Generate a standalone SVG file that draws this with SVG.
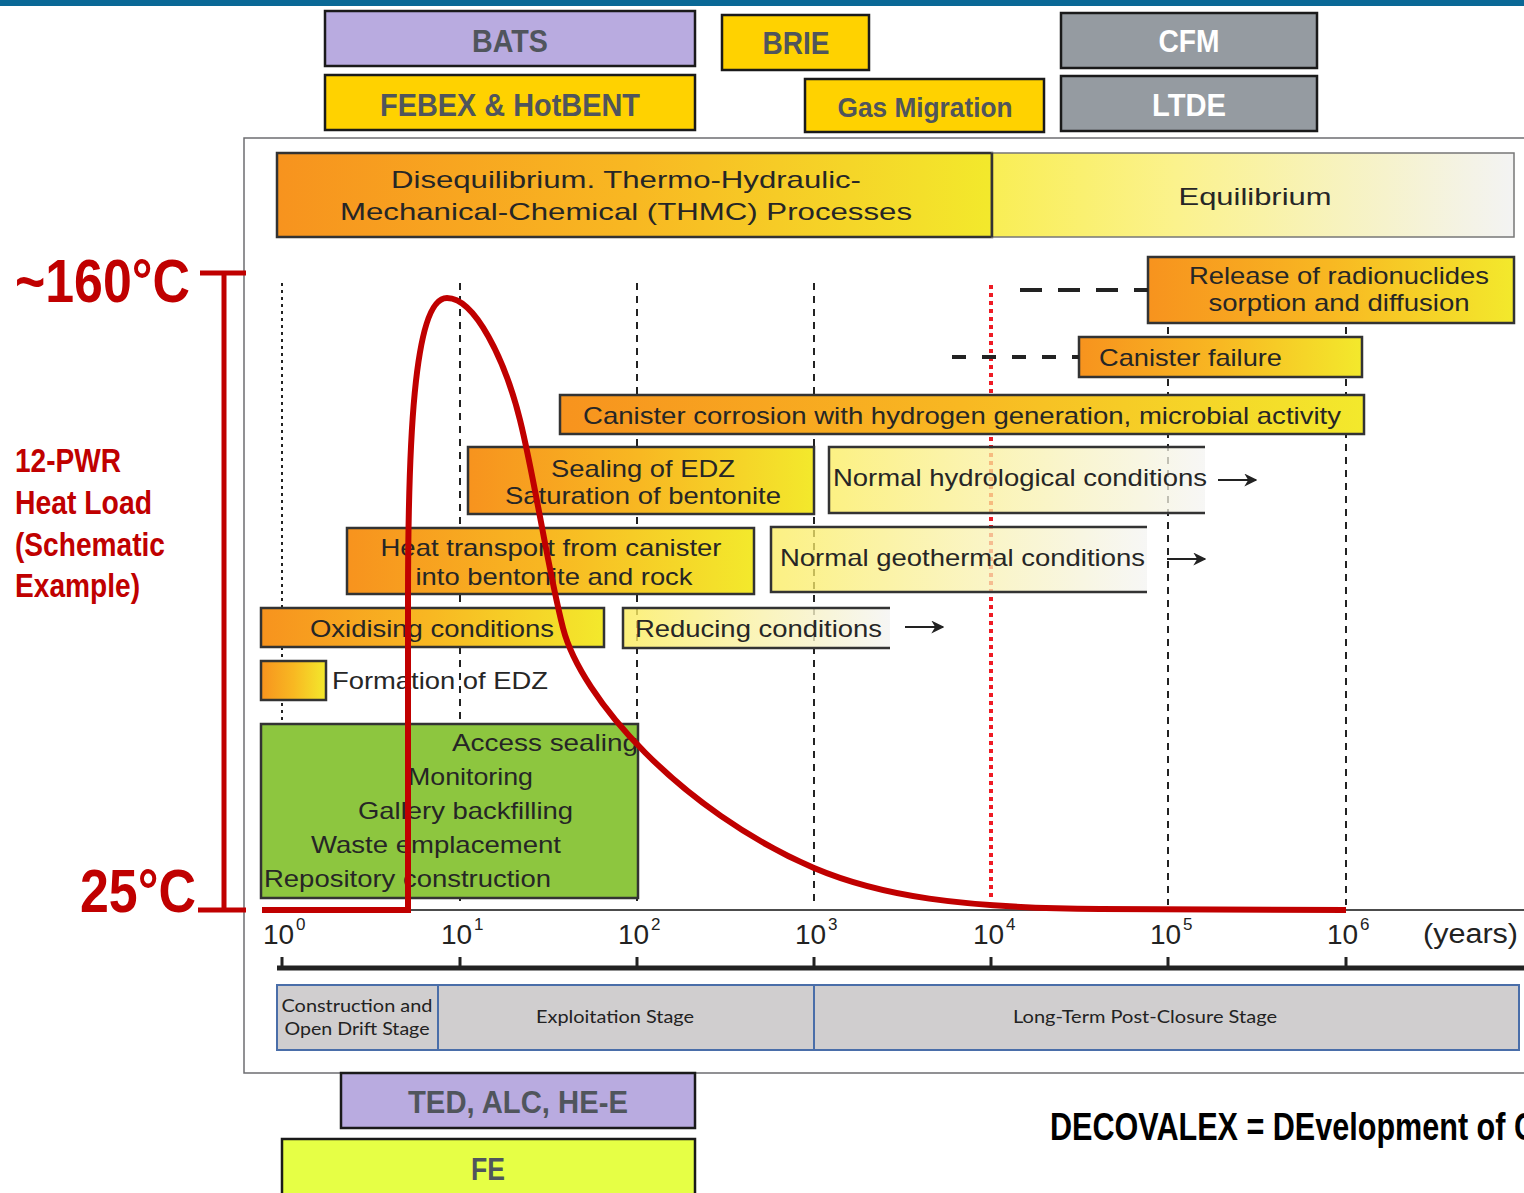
<svg xmlns="http://www.w3.org/2000/svg" width="1524" height="1193" viewBox="0 0 1524 1193">
<defs>
<linearGradient id="og" x1="0" y1="0" x2="1" y2="0">
<stop offset="0" stop-color="#f7931e"/>
<stop offset="0.5" stop-color="#f8b822"/>
<stop offset="1" stop-color="#f3e92c"/>
</linearGradient>
<linearGradient id="ly" x1="0" y1="0" x2="1" y2="0">
<stop offset="0" stop-color="#fbec5a"/>
<stop offset="0.5" stop-color="#f9f1a8"/>
<stop offset="1" stop-color="#f4f4f2"/>
</linearGradient>
<linearGradient id="eq" x1="0" y1="0" x2="1" y2="0">
<stop offset="0" stop-color="#f9ee55"/>
<stop offset="0.35" stop-color="#fbf28c"/>
<stop offset="1" stop-color="#f3f3f3"/>
</linearGradient>
<marker id="arr" viewBox="0 0 10 10" refX="9" refY="5" markerWidth="13" markerHeight="13" orient="auto" markerUnits="userSpaceOnUse">
<path d="M0,0 L10,5 L0,10 L3,5 z" fill="#222"/>
</marker>
<style>
.tb{stroke:#1a1a1a;stroke-width:2.5}
.tl{font-family:"Liberation Sans",Arial,sans-serif;font-weight:bold;text-anchor:middle;fill:#50555c}
.tw{fill:#ffffff}
.bx{stroke:#333;stroke-width:2.5}
.lb{stroke:#333;stroke-width:2.5;fill:none}
.t{font-family:"Liberation Sans",Arial,sans-serif;font-size:24px;fill:#262626}
.c{text-anchor:middle}
.red{font-family:"Liberation Sans",Arial,sans-serif;font-weight:bold;fill:#c00000}
.vl{stroke:#222;stroke-width:2;fill:none}
.st{font-family:Lato,"Open Sans",sans-serif;font-size:17px;fill:#222;text-anchor:middle}
.tk{font-family:"Liberation Sans",Arial,sans-serif;fill:#222}
</style>
</defs>
<rect x="0" y="0" width="1524" height="1193" fill="#ffffff"/>
<rect x="0" y="0" width="1524" height="6" fill="#0a6896"/>

<!-- main chart frame -->
<path d="M1530,138 L244,138 L244,1073 L1530,1073" fill="none" stroke="#6d6e71" stroke-width="1.5"/>

<!-- vertical guide lines -->
<g id="guides">
<line x1="282" y1="283" x2="282" y2="724" class="vl" stroke-width="2.5" stroke-dasharray="3,4"/>
<line x1="460" y1="283" x2="460" y2="905" class="vl" stroke-width="1.5" stroke-dasharray="7,6"/>
<line x1="637" y1="283" x2="637" y2="905" class="vl" stroke-width="2.5" stroke-dasharray="7,6"/>
<line x1="814" y1="283" x2="814" y2="905" class="vl" stroke-width="1.5" stroke-dasharray="7,6"/>
<line x1="1168" y1="327" x2="1168" y2="905" class="vl" stroke-width="2" stroke-dasharray="7,6"/>
<line x1="1346" y1="327" x2="1346" y2="905" class="vl" stroke-width="2" stroke-dasharray="7,6"/>
<line x1="991" y1="285" x2="991" y2="900" stroke="#ee1c25" stroke-width="4" stroke-dasharray="4,4"/>
</g>

<!-- top project boxes -->
<g id="bats"><rect x="325" y="11" width="370" height="55" fill="#b9abe0" class="tb"/><text x="510" y="52" class="tl" font-size="32" textLength="76" lengthAdjust="spacingAndGlyphs">BATS</text></g>
<g id="febex"><rect x="325" y="75" width="370" height="55" fill="#ffd200" class="tb"/><text x="510" y="116" class="tl" font-size="32" textLength="260" lengthAdjust="spacingAndGlyphs">FEBEX &amp; HotBENT</text></g>
<g id="brie"><rect x="722" y="15" width="147" height="55" fill="#ffd200" class="tb"/><text x="796" y="54" class="tl" font-size="32" textLength="67" lengthAdjust="spacingAndGlyphs">BRIE</text></g>
<g id="gas"><rect x="805" y="79" width="239" height="53" fill="#ffd200" class="tb"/><text x="925" y="117" class="tl" font-size="28" textLength="175" lengthAdjust="spacingAndGlyphs">Gas Migration</text></g>
<g id="cfm"><rect x="1061" y="13" width="256" height="55" fill="#959ba1" class="tb"/><text x="1189" y="52" class="tl tw" font-size="32" textLength="61" lengthAdjust="spacingAndGlyphs">CFM</text></g>
<g id="ltde"><rect x="1061" y="76" width="256" height="55" fill="#959ba1" class="tb"/><text x="1189" y="116" class="tl tw" font-size="32" textLength="74" lengthAdjust="spacingAndGlyphs">LTDE</text></g>

<!-- process boxes -->
<g id="diseq"><rect x="277" y="153" width="715" height="84" fill="url(#og)" class="bx"/>
<text x="626" y="188" class="t c" font-size="26" textLength="470" lengthAdjust="spacingAndGlyphs">Disequilibrium. Thermo-Hydraulic-</text>
<text x="626" y="220" class="t c" font-size="26" textLength="572" lengthAdjust="spacingAndGlyphs">Mechanical-Chemical (THMC) Processes</text></g>
<g id="equil"><rect x="992" y="153" width="522" height="84" fill="url(#eq)" stroke="#777" stroke-width="1.5"/><line x1="992" y1="153" x2="992" y2="237" stroke="#333" stroke-width="2.5"/>
<text x="1255" y="205" class="t c" font-size="26" textLength="153" lengthAdjust="spacingAndGlyphs">Equilibrium</text></g>

<g id="release"><rect x="1148" y="257" width="366" height="66" fill="url(#og)" class="bx"/>
<text x="1339" y="284" class="t c" textLength="300" lengthAdjust="spacingAndGlyphs">Release of radionuclides</text>
<text x="1339" y="311" class="t c" textLength="261" lengthAdjust="spacingAndGlyphs">sorption and diffusion</text></g>
<g id="failure"><rect x="1079" y="337" width="283" height="40" fill="url(#og)" class="bx"/>
<text x="1099" y="366" class="t" textLength="183" lengthAdjust="spacingAndGlyphs">Canister failure</text></g>
<g id="corrosion"><rect x="560" y="395" width="804" height="39" fill="url(#og)" class="bx"/>
<text x="962" y="424" class="t c" textLength="758" lengthAdjust="spacingAndGlyphs">Canister corrosion with hydrogen generation, microbial activity</text></g>
<g id="sealing"><rect x="468" y="447" width="346" height="67" fill="url(#og)" class="bx"/>
<text x="643" y="477" class="t c" textLength="184" lengthAdjust="spacingAndGlyphs">Sealing of EDZ</text>
<text x="643" y="504" class="t c" textLength="276" lengthAdjust="spacingAndGlyphs">Saturation of bentonite</text></g>
<g id="hydro"><rect x="829" y="447" width="376" height="66" fill="url(#ly)" fill-opacity="0.75"/><path d="M1205,447 L829,447 L829,513 L1205,513" class="lb"/>
<text x="833" y="486" class="t" textLength="374" lengthAdjust="spacingAndGlyphs">Normal hydrological conditions</text></g>
<g id="heat"><rect x="347" y="528" width="407" height="66" fill="url(#og)" class="bx"/>
<text x="551" y="556" class="t c" textLength="341" lengthAdjust="spacingAndGlyphs">Heat transport from canister</text>
<text x="554" y="585" class="t c" textLength="277" lengthAdjust="spacingAndGlyphs">into bentonite and rock</text></g>
<g id="geo"><rect x="771" y="527" width="376" height="65" fill="url(#ly)" fill-opacity="0.75"/><path d="M1147,527 L771,527 L771,592 L1147,592" class="lb"/>
<text x="780" y="566" class="t" textLength="365" lengthAdjust="spacingAndGlyphs">Normal geothermal conditions</text></g>
<g id="oxid"><rect x="261" y="608" width="343" height="39" fill="url(#og)" class="bx"/>
<text x="432" y="637" class="t c" textLength="244" lengthAdjust="spacingAndGlyphs">Oxidising conditions</text></g>
<g id="reduc"><rect x="623" y="608" width="267" height="40" fill="url(#ly)" fill-opacity="0.8"/><path d="M890,608 L623,608 L623,648 L890,648" class="lb"/>
<text x="635" y="637" class="t" textLength="247" lengthAdjust="spacingAndGlyphs">Reducing conditions</text></g>
<g id="edz"><rect x="261" y="661" width="65" height="39" fill="url(#og)" class="bx"/>
<text x="332" y="689" class="t" textLength="216" lengthAdjust="spacingAndGlyphs">Formation of EDZ</text></g>
<g id="ops"><rect x="261" y="724" width="377" height="174" fill="#8dc63f" class="bx"/>
<text x="452" y="751" class="t" textLength="186" lengthAdjust="spacingAndGlyphs">Access sealing</text>
<text x="408" y="785" class="t" textLength="125" lengthAdjust="spacingAndGlyphs">Monitoring</text>
<text x="358" y="819" class="t" textLength="215" lengthAdjust="spacingAndGlyphs">Gallery backfilling</text>
<text x="311" y="853" class="t" textLength="250" lengthAdjust="spacingAndGlyphs">Waste emplacement</text>
<text x="264" y="887" class="t" textLength="287" lengthAdjust="spacingAndGlyphs">Repository construction</text></g>

<!-- connectors -->
<g id="connectors" fill="none">
<line x1="1020" y1="290" x2="1148" y2="290" stroke="#222" stroke-width="4" stroke-dasharray="22,16"/>
<line x1="952" y1="357" x2="1079" y2="357" stroke="#222" stroke-width="4" stroke-dasharray="14,16"/>
<line x1="1218" y1="480" x2="1256" y2="480" stroke="#222" stroke-width="2" marker-end="url(#arr)"/>
<line x1="1167" y1="559" x2="1205" y2="559" stroke="#222" stroke-width="2" marker-end="url(#arr)"/>
<line x1="905" y1="627" x2="943" y2="627" stroke="#222" stroke-width="2" marker-end="url(#arr)"/>
</g>

<!-- axis -->
<g id="axis">
<line x1="262" y1="910" x2="1530" y2="910" stroke="#111" stroke-width="1.5"/>
<line x1="277" y1="968" x2="1524" y2="968" stroke="#222" stroke-width="5"/>
<g stroke="#222" stroke-width="3">
<line x1="282" y1="957" x2="282" y2="968"/><line x1="460" y1="957" x2="460" y2="968"/><line x1="637" y1="957" x2="637" y2="968"/><line x1="814" y1="957" x2="814" y2="968"/><line x1="991" y1="957" x2="991" y2="968"/><line x1="1168" y1="957" x2="1168" y2="968"/><line x1="1346" y1="957" x2="1346" y2="968"/>
</g>
<g class="tk">
<text x="263" y="944" font-size="28">10</text><text x="296" y="930" font-size="17">0</text>
<text x="441" y="944" font-size="28">10</text><text x="474" y="930" font-size="17">1</text>
<text x="618" y="944" font-size="28">10</text><text x="651" y="930" font-size="17">2</text>
<text x="795" y="944" font-size="28">10</text><text x="828" y="930" font-size="17">3</text>
<text x="973" y="944" font-size="28">10</text><text x="1006" y="930" font-size="17">4</text>
<text x="1150" y="944" font-size="28">10</text><text x="1183" y="930" font-size="17">5</text>
<text x="1327" y="944" font-size="28">10</text><text x="1360" y="930" font-size="17">6</text>
<text x="1423" y="943" font-size="27" textLength="95" lengthAdjust="spacingAndGlyphs">(years)</text>
</g>
</g>

<!-- stages -->
<g id="stage1"><rect x="277" y="985" width="161" height="65" fill="#d0cecf" stroke="#4a6ea9" stroke-width="2"/>
<text x="357" y="1012" class="st" textLength="151" lengthAdjust="spacingAndGlyphs">Construction and</text>
<text x="357" y="1035" class="st" textLength="145" lengthAdjust="spacingAndGlyphs">Open Drift Stage</text></g>
<g id="stage2"><rect x="438" y="985" width="376" height="65" fill="#d0cecf" stroke="#4a6ea9" stroke-width="2"/>
<text x="615" y="1023" class="st" textLength="158" lengthAdjust="spacingAndGlyphs">Exploitation Stage</text></g>
<g id="stage3"><rect x="814" y="985" width="705" height="65" fill="#d0cecf" stroke="#4a6ea9" stroke-width="2"/>
<text x="1145" y="1023" class="st" textLength="264" lengthAdjust="spacingAndGlyphs">Long-Term Post-Closure Stage</text></g>

<!-- temperature bracket and labels -->
<g id="bracket" stroke="#c00000" stroke-width="5" fill="none">
<line x1="200" y1="273" x2="246" y2="273"/>
<line x1="224" y1="273" x2="224" y2="910"/>
<line x1="198" y1="910" x2="246" y2="910"/>
</g>
<g id="templabels">
<text x="15" y="302" class="red" font-size="62" textLength="175" lengthAdjust="spacingAndGlyphs">~160°C</text>
<text x="80" y="912" class="red" font-size="62" textLength="116" lengthAdjust="spacingAndGlyphs">25°C</text>
<text x="15" y="472" class="red" font-size="33" textLength="106" lengthAdjust="spacingAndGlyphs">12-PWR</text>
<text x="15" y="514" class="red" font-size="33" textLength="137" lengthAdjust="spacingAndGlyphs">Heat Load</text>
<text x="15" y="556" class="red" font-size="33" textLength="150" lengthAdjust="spacingAndGlyphs">(Schematic</text>
<text x="15" y="597" class="red" font-size="33" textLength="125" lengthAdjust="spacingAndGlyphs">Example)</text>
</g>

<!-- heat curve -->
<g id="heatcurve">
<path d="M262,910 L408,910 L408,600 C408,450 413,298 447,298 C475,298 505,360 520,420 C535,480 548,570 563,628 C581,698 680,810 814,868 C880,896 960,908 1100,909 L1346,910" fill="none" stroke="#c00000" stroke-width="6" stroke-linejoin="miter"/>
</g>

<!-- bottom project boxes -->
<g id="ted"><rect x="341" y="1073" width="354" height="55" fill="#b9abe0" class="tb"/><text x="518" y="1113" class="tl" font-size="32" textLength="220" lengthAdjust="spacingAndGlyphs">TED, ALC, HE-E</text></g>
<g id="fe"><rect x="282" y="1139" width="413" height="60" fill="#e6ff45" class="tb"/><text x="488" y="1180" class="tl" font-size="32" textLength="34" lengthAdjust="spacingAndGlyphs">FE</text></g>
<text x="1050" y="1140" font-family="'Liberation Sans',Arial,sans-serif" font-weight="bold" font-size="38" fill="#000" textLength="486" lengthAdjust="spacingAndGlyphs">DECOVALEX = DEvelopment of C</text>
</svg>
